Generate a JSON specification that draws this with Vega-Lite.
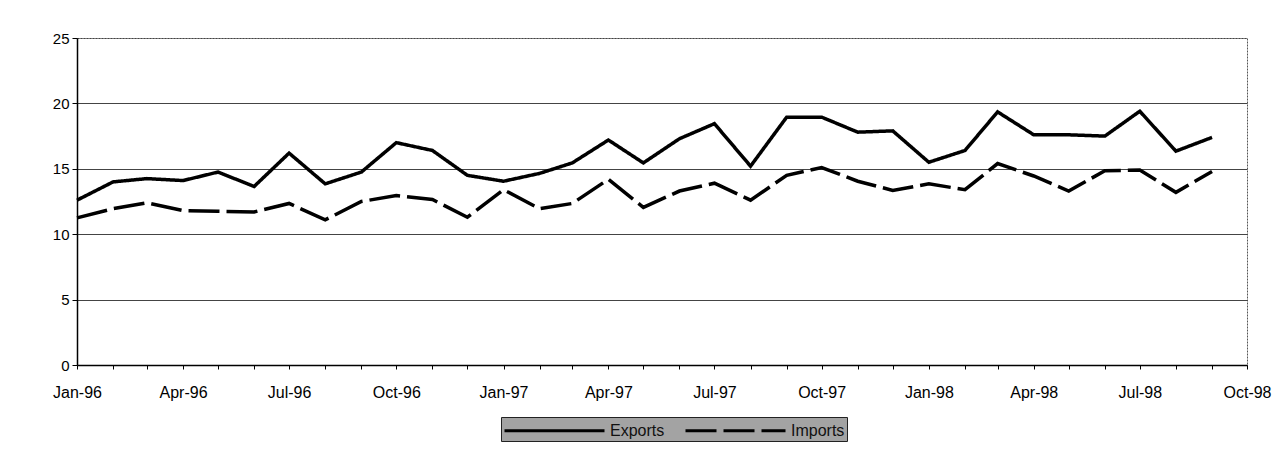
{
  "$schema": "https://vega.github.io/schema/vega-lite/v6.json",
  "autosize": {"type": "none"},
  "width": 1170,
  "height": 327,
  "padding": {"left": 77, "top": 38, "right": 32, "bottom": 101},
  "background": "white",
  "config": {
    "font": "Liberation Sans",
    "view": {"stroke": "#555", "strokeDash": [2, 1], "strokeWidth": 1},
    "axis": {"labelFont": "Liberation Sans", "labelFontSize": 15, "labelColor": "#000", "domainColor": "#000", "tickColor": "#000", "title": null}
  },
  "data": {
    "values": [
      {"month": "1996-01-01T00:00:00", "Exports": 12.6, "Imports": 11.25},
      {"month": "1996-02-01T00:00:00", "Exports": 14.0, "Imports": 11.95},
      {"month": "1996-03-01T00:00:00", "Exports": 14.25, "Imports": 12.4},
      {"month": "1996-04-01T00:00:00", "Exports": 14.1, "Imports": 11.8},
      {"month": "1996-05-01T00:00:00", "Exports": 14.75, "Imports": 11.75},
      {"month": "1996-06-01T00:00:00", "Exports": 13.65, "Imports": 11.7},
      {"month": "1996-07-01T00:00:00", "Exports": 16.2, "Imports": 12.35},
      {"month": "1996-08-01T00:00:00", "Exports": 13.85, "Imports": 11.1},
      {"month": "1996-09-01T00:00:00", "Exports": 14.75, "Imports": 12.5},
      {"month": "1996-10-01T00:00:00", "Exports": 17.0, "Imports": 12.95},
      {"month": "1996-11-01T00:00:00", "Exports": 16.4, "Imports": 12.65},
      {"month": "1996-12-01T00:00:00", "Exports": 14.5, "Imports": 11.3},
      {"month": "1997-01-01T00:00:00", "Exports": 14.05, "Imports": 13.4},
      {"month": "1997-02-01T00:00:00", "Exports": 14.65, "Imports": 11.95},
      {"month": "1997-03-01T00:00:00", "Exports": 15.45, "Imports": 12.35},
      {"month": "1997-04-01T00:00:00", "Exports": 17.2, "Imports": 14.2},
      {"month": "1997-05-01T00:00:00", "Exports": 15.45, "Imports": 12.05},
      {"month": "1997-06-01T00:00:00", "Exports": 17.3, "Imports": 13.3},
      {"month": "1997-07-01T00:00:00", "Exports": 18.45, "Imports": 13.9},
      {"month": "1997-08-01T00:00:00", "Exports": 15.2, "Imports": 12.6},
      {"month": "1997-09-01T00:00:00", "Exports": 18.95, "Imports": 14.5},
      {"month": "1997-10-01T00:00:00", "Exports": 18.95, "Imports": 15.1},
      {"month": "1997-11-01T00:00:00", "Exports": 17.8, "Imports": 14.05},
      {"month": "1997-12-01T00:00:00", "Exports": 17.9, "Imports": 13.35},
      {"month": "1998-01-01T00:00:00", "Exports": 15.5, "Imports": 13.85},
      {"month": "1998-02-01T00:00:00", "Exports": 16.4, "Imports": 13.4},
      {"month": "1998-03-01T00:00:00", "Exports": 19.35, "Imports": 15.4},
      {"month": "1998-04-01T00:00:00", "Exports": 17.6, "Imports": 14.45},
      {"month": "1998-05-01T00:00:00", "Exports": 17.6, "Imports": 13.3},
      {"month": "1998-06-01T00:00:00", "Exports": 17.5, "Imports": 14.85},
      {"month": "1998-07-01T00:00:00", "Exports": 19.4, "Imports": 14.9},
      {"month": "1998-08-01T00:00:00", "Exports": 16.35, "Imports": 13.2},
      {"month": "1998-09-01T00:00:00", "Exports": 17.4, "Imports": 14.8}
    ]
  },
  "transform": [{"fold": ["Exports", "Imports"], "as": ["series", "value"]}],
  "mark": {"type": "line", "color": "#000", "strokeWidth": 3.5, "strokeJoin": "miter"},
  "encoding": {
    "x": {
      "field": "month",
      "type": "temporal",
      "scale": {"domain": [{"year": 1996, "month": 1, "date": 1}, {"year": 1998, "month": 10, "date": 1}], "nice": false},
      "axis": {
        "tickCount": {"interval": "month", "step": 1},
        "labelExpr": "month(datum.value) % 3 == 0 ? timeFormat(datum.value, '%b-%y') : ''",
        "labelOverlap": false,
        "labelFlush": false,
        "labelBound": false,
        "labelFontSize": 16,
        "grid": false,
        "tickSize": 4,
        "labelPadding": 15,
        "domainWidth": 1.5
      }
    },
    "y": {
      "field": "value",
      "type": "quantitative",
      "scale": {"domain": [0, 25], "nice": false},
      "axis": {
        "values": [0, 5, 10, 15, 20, 25],
        "grid": true,
        "gridColor": "#444",
        "gridWidth": 1,
        "gridDash": {"condition": {"test": "datum.value == 25", "value": [2, 1]}, "value": []},
        "tickSize": 5,
        "labelPadding": 3,
        "domainWidth": 1.5
      }
    },
    "strokeDash": {
      "field": "series",
      "type": "nominal",
      "scale": {"domain": ["Exports", "Imports"], "range": [[1, 0], [31, 7]]},
      "legend": {
        "title": null,
        "orient": "none",
        "direction": "horizontal",
        "legendX": 424,
        "legendY": 379,
        "fillColor": "#a3a3a3",
        "strokeColor": "#222",
        "padding": 2,
        "symbolType": "M-1,0H9",
        "symbolSize": 400,
        "symbolStrokeWidth": 3,
        "symbolStrokeColor": "#000",
        "labelFont": "Liberation Sans",
        "labelFontSize": 16,
        "labelColor": "#111",
        "labelOffset": 84,
        "columnPadding": 14
      }
    }
  }
}
